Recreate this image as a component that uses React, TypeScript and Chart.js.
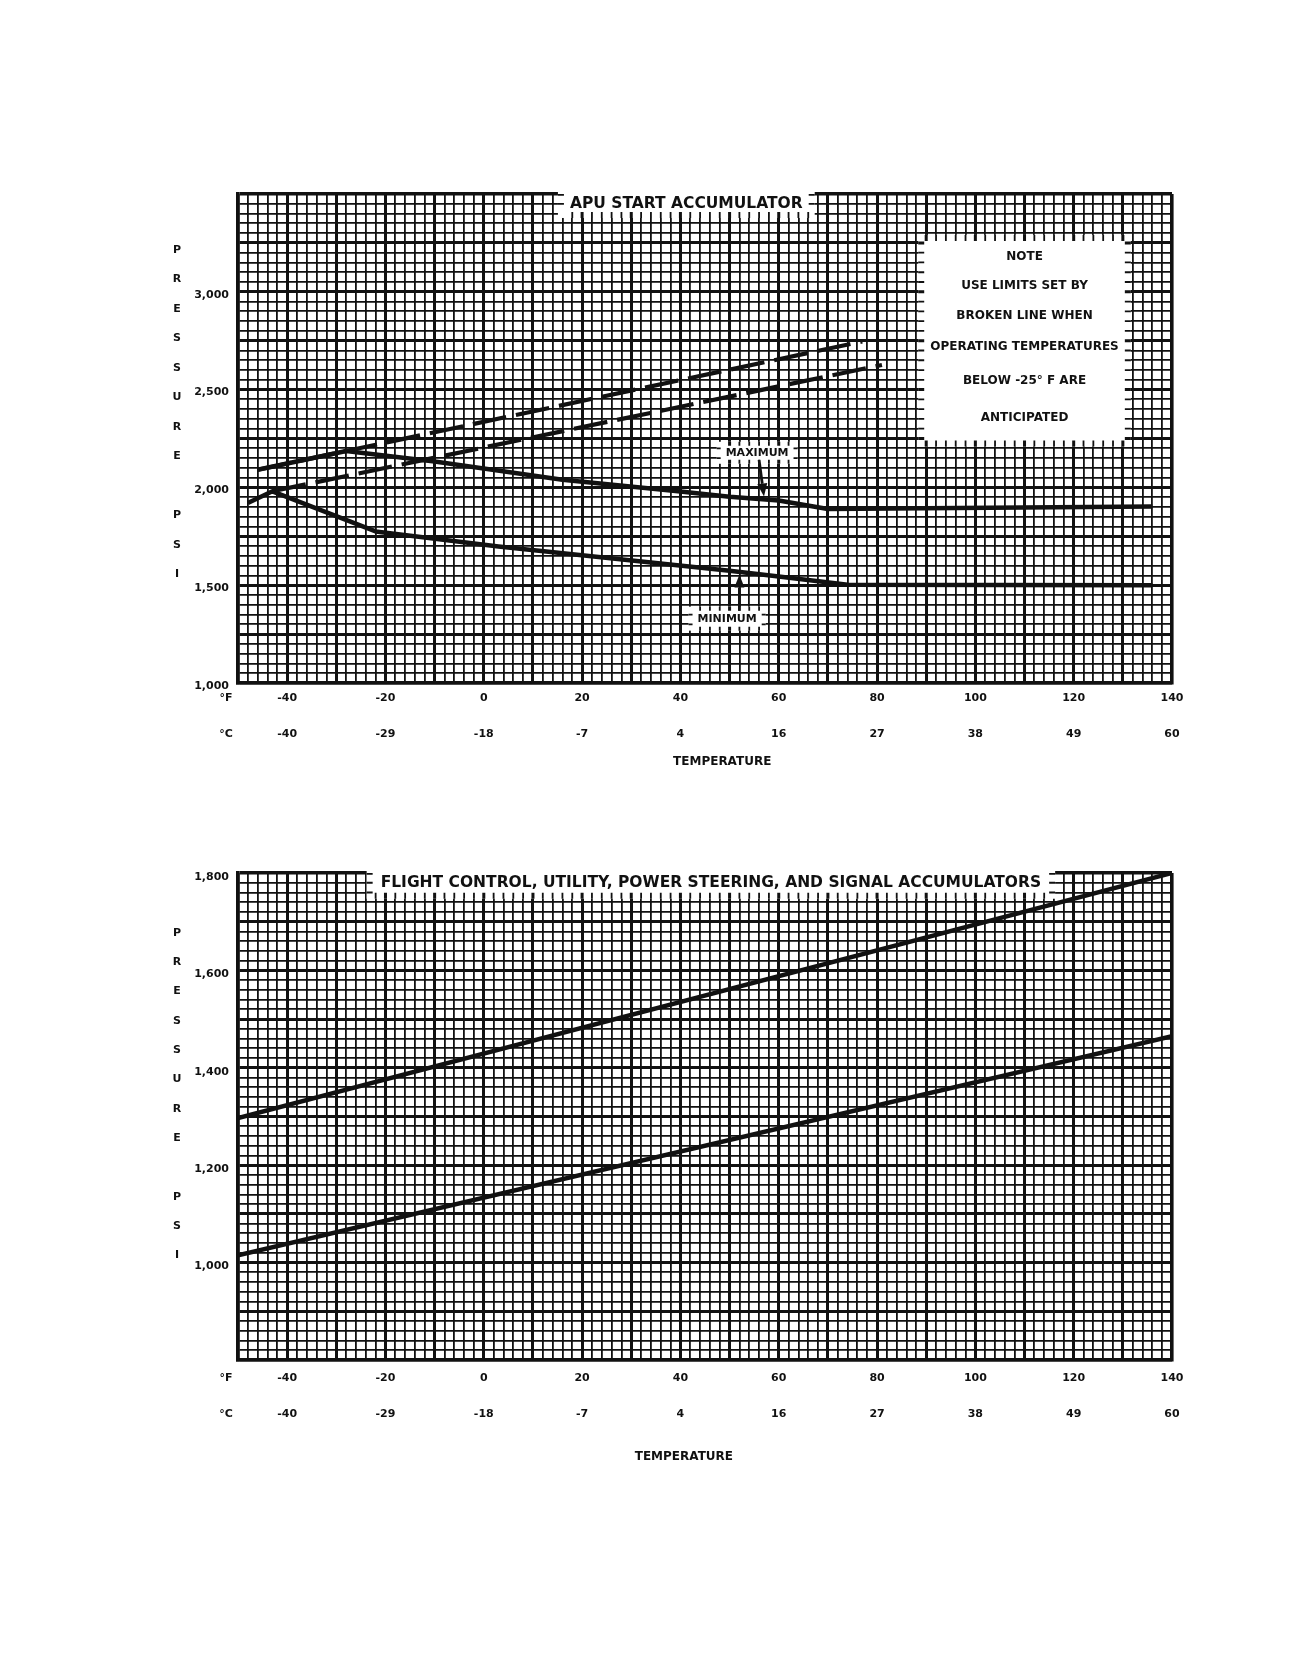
import React, { useEffect, useRef } from 'react';
import { Chart, registerables } from 'chart.js';

Chart.register(...registerables);

const FONT = '"DejaVu Sans", "Liberation Sans", sans-serif';
const INK = '#111';

// temperature scale shared by both charts
const TEMP_F_TICKS = [-40, -20, 0, 20, 40, 60, 80, 100, 120, 140];
const TEMP_C_TICKS = ['-40', '-29', '-18', '-7', '4', '16', '27', '38', '49', '60'];

// APU START ACCUMULATOR
const APU_PSI_TICKS = [1000, 1500, 2000, 2500, 3000];
const APU_UPPER_BROKEN_F = [-46, 77];
const APU_UPPER_BROKEN_PSI = [2090, 2746];
const APU_LOWER_BROKEN_F = [-43, 81];
const APU_LOWER_BROKEN_PSI = [1980, 2626];
const APU_MAX_F = [-46, -28, -10, 16, 40, 50, 60, 70, 136];
const APU_MAX_PSI = [2090, 2186, 2132, 2039, 1979, 1952, 1933, 1890, 1902];
const APU_MIN_F = [-48, -43, -22, 3, 50, 60, 74, 136];
const APU_MIN_PSI = [1920, 1980, 1775, 1698, 1574, 1545, 1502, 1500];

// FLIGHT CONTROL, UTILITY, POWER STEERING, AND SIGNAL ACCUMULATORS
const FC_PSI_TICKS = [1000, 1200, 1400, 1600, 1800];
const FC_UPPER_F = [-50, 140];
const FC_UPPER_PSI = [1297, 1800];
const FC_LOWER_F = [-50, 140];
const FC_LOWER_PSI = [1015, 1465];

const NOTE_LINES = [
  'NOTE',
  'USE LIMITS SET BY',
  'BROKEN LINE WHEN',
  'OPERATING TEMPERATURES',
  'BELOW -25° F ARE',
  'ANTICIPATED',
];
// where the note rows sit, in psi
const NOTE_ROWS_PSI = [3176, 3030, 2879, 2717, 2545, 2356];

// graph paper
const X_MIN = -50;
const X_MAX = 140;
const X_MAJOR = 10;

const range = (from: number, to: number, step: number) => {
  const out: number[] = [];
  for (let v = from; v <= to + 1e-9; v += step) out.push(+v.toFixed(3));
  return out;
};
const X_GRID = range(X_MIN, X_MAX, 2);

const widthFor = (v: number, min: number, max: number, major: number) => {
  if (Math.abs(v - min) < 1e-6 || Math.abs(v - max) < 1e-6) return 3.6;
  const k = (v - min) / major;
  return Math.abs(k - Math.round(k)) < 1e-6 ? 3 : 1.8;
};

const font = (size: number) => `bold ${size}px ${FONT}`;
const TICK_FONT = { family: FONT, size: 11, weight: 'bold' as const };

const pts = (xs: number[], ys: number[]) => xs.map((x, i) => ({ x, y: ys[i] }));

function drawText(ctx: CanvasRenderingContext2D, text: string, x: number, y: number, size: number) {
  ctx.save();
  ctx.font = font(size);
  ctx.fillStyle = INK;
  ctx.textAlign = 'center';
  ctx.textBaseline = 'middle';
  ctx.fillText(text, x, y);
  ctx.restore();
}

// white patch on the paper, leaving short grid stubs round its edge
function knockOut(chart: any, opts: any, l: number, t: number, r: number, b: number, band: number) {
  const { ctx, chartArea } = chart;
  const xs = chart.scales.x;
  const ys = chart.scales.y;
  ctx.save();
  ctx.fillStyle = '#fff';
  ctx.fillRect(l - band, t - band, r - l + 2 * band, b - t + 2 * band);
  ctx.beginPath();
  ctx.rect(chartArea.left, chartArea.top, chartArea.right - chartArea.left, chartArea.bottom - chartArea.top);
  ctx.clip();
  ctx.strokeStyle = INK;
  for (const v of X_GRID) {
    const px = xs.getPixelForValue(v);
    if (px < l || px > r) continue;
    ctx.lineWidth = widthFor(v, X_MIN, X_MAX, X_MAJOR);
    ctx.beginPath();
    ctx.moveTo(px, t - band);
    ctx.lineTo(px, t);
    ctx.moveTo(px, b);
    ctx.lineTo(px, b + band);
    ctx.stroke();
  }
  for (const v of opts.yGrid) {
    const py = ys.getPixelForValue(v);
    if (py < t || py > b) continue;
    ctx.lineWidth = widthFor(v, opts.yMin, opts.yMax, opts.yMajor);
    ctx.beginPath();
    ctx.moveTo(l - band, py);
    ctx.lineTo(l, py);
    ctx.moveTo(r, py);
    ctx.lineTo(r + band, py);
    ctx.stroke();
  }
  ctx.restore();
}

function drawArrow(ctx: CanvasRenderingContext2D, x0: number, y0: number, x1: number, y1: number) {
  const ang = Math.atan2(y1 - y0, x1 - x0);
  const head = 13;
  const half = 5;
  const bx = x1 - head * Math.cos(ang);
  const by = y1 - head * Math.sin(ang);
  ctx.save();
  ctx.strokeStyle = INK;
  ctx.fillStyle = INK;
  ctx.lineWidth = 2.8;
  ctx.beginPath();
  ctx.moveTo(x0, y0);
  ctx.lineTo(bx, by);
  ctx.stroke();
  ctx.beginPath();
  ctx.moveTo(x1, y1);
  ctx.lineTo(bx + half * Math.sin(ang), by - half * Math.cos(ang));
  ctx.lineTo(bx - half * Math.sin(ang), by + half * Math.cos(ang));
  ctx.closePath();
  ctx.fill();
  ctx.restore();
}

const paperPlugin = {
  id: 'paper',
  beforeDatasetsDraw(chart: any, _args: any, opts: any) {
    const { ctx } = chart;
    const xs = chart.scales.x;
    const ys = chart.scales.y;
    for (const p of opts.panels) {
      const l = xs.getPixelForValue(p.x0) - p.pad;
      const r = xs.getPixelForValue(p.x1) + p.pad;
      const t = ys.getPixelForValue(p.y1) - p.pad;
      const b = ys.getPixelForValue(p.y0) + p.pad;
      knockOut(chart, opts, l, t, r, b, p.band);
    }
    for (const lb of opts.labels) {
      ctx.save();
      ctx.font = font(lb.size);
      const w = ctx.measureText(lb.text).width;
      ctx.restore();
      const cx = xs.getPixelForValue(lb.x);
      const cy = ys.getPixelForValue(lb.y);
      const t = lb.toTop ? chart.chartArea.top - 4 : cy - lb.padY;
      knockOut(chart, opts, cx - w / 2 - lb.padX, t, cx + w / 2 + lb.padX, cy + lb.padY, lb.band);
      drawText(ctx, lb.text, cx, cy, lb.size);
    }
    for (const tx of opts.texts) {
      drawText(ctx, tx.text, xs.getPixelForValue(tx.x), ys.getPixelForValue(tx.y), tx.size);
    }
  },
  afterDatasetsDraw(chart: any, _args: any, opts: any) {
    const xs = chart.scales.x;
    const ys = chart.scales.y;
    for (const a of opts.arrows) {
      drawArrow(
        chart.ctx,
        xs.getPixelForValue(a.from[0]),
        ys.getPixelForValue(a.from[1]),
        xs.getPixelForValue(a.to[0]),
        ys.getPixelForValue(a.to[1])
      );
    }
  },
  afterDraw(chart: any, _args: any, opts: any) {
    const { ctx, chartArea } = chart;
    const xs = chart.scales.x;
    const xc = chart.scales.xc;
    // stacked axis title letters
    [...opts.letters.text].forEach((ch: string, i: number) => {
      if (ch === ' ') return;
      drawText(ctx, ch, chartArea.left - 61, chartArea.top + opts.letters.top + i * opts.letters.step, 11);
    });
    const rowF = xs.top + xs.options.ticks.padding + 6.6;
    const rowC = xc.top + xc.options.ticks.padding + 6.6;
    drawText(ctx, '°F', chartArea.left - 12, rowF, 11);
    drawText(ctx, '°C', chartArea.left - 12, rowC, 11);
    drawText(ctx, 'TEMPERATURE', xs.getPixelForValue(opts.temp.x), chartArea.bottom + opts.temp.dy, 12);
  },
};

function buildConfig(spec: any): any {
  const yGrid = range(spec.yMin, spec.yMax, spec.yStep);
  return {
    type: 'line',
    data: { datasets: spec.datasets },
    plugins: [paperPlugin],
    options: {
      responsive: false,
      animation: false,
      events: [],
      layout: { padding: { left: 170, right: 114, top: spec.padTop, bottom: spec.padBottom } },
      elements: { point: { radius: 0 }, line: { tension: 0, borderJoinStyle: 'round' } },
      plugins: {
        legend: { display: false },
        tooltip: { enabled: false },
        paper: { ...spec.paper, yGrid, yMin: spec.yMin, yMax: spec.yMax, yMajor: spec.yMajor },
      },
      scales: {
        x: {
          type: 'linear',
          min: X_MIN,
          max: X_MAX,
          afterBuildTicks: (s: any) => {
            s.ticks = X_GRID.map((value) => ({ value }));
          },
          afterFit: (s: any) => {
            s.height = 36;
          },
          grid: {
            color: INK,
            drawTicks: false,
            lineWidth: (c: any) => (c.tick ? widthFor(c.tick.value, X_MIN, X_MAX, X_MAJOR) : 1),
          },
          border: { display: true, color: INK, width: 3.6 },
          ticks: {
            autoSkip: false,
            maxRotation: 0,
            minRotation: 0,
            padding: spec.xPad,
            color: INK,
            font: TICK_FONT,
            callback: (v: number) => (TEMP_F_TICKS.includes(v) ? String(v) : ''),
          },
        },
        xc: {
          type: 'linear',
          axis: 'x',
          position: 'bottom',
          weight: 1,
          min: X_MIN,
          max: X_MAX,
          afterBuildTicks: (s: any) => {
            s.ticks = TEMP_F_TICKS.map((value) => ({ value }));
          },
          afterFit: (s: any) => {
            s.height = 40;
          },
          grid: { display: false, drawTicks: false },
          border: { display: false },
          ticks: {
            autoSkip: false,
            maxRotation: 0,
            minRotation: 0,
            padding: spec.xcPad,
            color: INK,
            font: TICK_FONT,
            callback: (_v: number, i: number) => TEMP_C_TICKS[i],
          },
        },
        y: {
          type: 'linear',
          min: spec.yMin,
          max: spec.yMax,
          afterBuildTicks: (s: any) => {
            s.ticks = yGrid.map((value) => ({ value }));
          },
          afterFit: (s: any) => {
            s.width = 60;
          },
          grid: {
            color: INK,
            drawTicks: false,
            lineWidth: (c: any) => (c.tick ? widthFor(c.tick.value, spec.yMin, spec.yMax, spec.yMajor) : 1),
          },
          border: { display: true, color: INK, width: 3.6 },
          ticks: {
            autoSkip: false,
            padding: 9,
            labelOffset: spec.yLabelOffset,
            color: INK,
            font: TICK_FONT,
            callback: (v: number) => (spec.yTicks.includes(v) ? v.toLocaleString('en-US') : ''),
          },
        },
      },
    },
  };
}

const solid = (data: any[]) => ({ data, borderColor: INK, borderWidth: 4.5, fill: false });
const broken = (data: any[]) => ({ data, borderColor: INK, borderWidth: 4.2, borderDash: [34, 10], fill: false });

const apuConfig = () =>
  buildConfig({
    yMin: 1000,
    yMax: 3500,
    yStep: 50,
    yMajor: 250,
    yTicks: APU_PSI_TICKS,
    yLabelOffset: 3,
    padTop: 186,
    padBottom: 29,
    xPad: 9,
    xcPad: 9,
    datasets: [
      broken(pts(APU_UPPER_BROKEN_F, APU_UPPER_BROKEN_PSI)),
      broken(pts(APU_LOWER_BROKEN_F, APU_LOWER_BROKEN_PSI)),
      solid(pts(APU_MAX_F, APU_MAX_PSI)),
      solid(pts(APU_MIN_F, APU_MIN_PSI)),
    ],
    paper: {
      panels: [{ x0: 90, x1: 130, y0: 2250, y1: 3250, pad: 2, band: 6 }],
      labels: [
        { text: 'APU START ACCUMULATOR', x: 41.2, y: 3449, size: 15.5, padX: 6, padY: 8, band: 6, toTop: true },
        { text: 'MAXIMUM', x: 55.6, y: 2177, size: 11, padX: 5, padY: 7, band: 4 },
        { text: 'MINIMUM', x: 49.5, y: 1329, size: 11, padX: 5, padY: 8, band: 4 },
      ],
      texts: NOTE_LINES.map((text, i) => ({ text, x: 110, y: NOTE_ROWS_PSI[i], size: 12 })),
      arrows: [
        { from: [56, 2141], to: [57, 1953] },
        { from: [52, 1369], to: [52, 1555] },
      ],
      letters: { text: 'PRESSURE PSI', top: 56, step: 29.5 },
      temp: { x: 48.5, dy: 79 },
    },
  });

const fcConfig = () =>
  buildConfig({
    yMin: 800,
    yMax: 1800,
    yStep: 20,
    yMajor: 100,
    yTicks: FC_PSI_TICKS,
    yLabelOffset: 4,
    padTop: 65,
    padBottom: 52,
    xPad: 12,
    xcPad: 12,
    datasets: [solid(pts(FC_UPPER_F, FC_UPPER_PSI)), solid(pts(FC_LOWER_F, FC_LOWER_PSI))],
    paper: {
      panels: [],
      labels: [
        {
          text: 'FLIGHT CONTROL, UTILITY, POWER STEERING, AND SIGNAL ACCUMULATORS',
          x: 46.2,
          y: 1780,
          size: 15.5,
          padX: 8,
          padY: 10,
          band: 6,
          toTop: true,
        },
      ],
      texts: [],
      arrows: [],
      letters: { text: 'PRESSURE PSI', top: 60, step: 29.3 },
      temp: { x: 40.7, dy: 97 },
    },
  });

const WIDTH = 1278;

const PaperChart: React.FC<{ build: () => any; top: number; height: number }> = ({ build, top, height }) => {
  const canvasRef = useRef<HTMLCanvasElement | null>(null);

  useEffect(() => {
    if (!canvasRef.current) return;
    const chart = new Chart(canvasRef.current, build());
    return () => chart.destroy();
  }, [build]);

  return (
    <canvas
      ref={canvasRef}
      width={WIDTH}
      height={height}
      style={{ position: 'absolute', left: 0, top, width: WIDTH, height }}
    />
  );
};

export default function App() {
  return (
    <div style={{ position: 'relative', width: WIDTH, height: 1480, background: '#fff' }}>
      <PaperChart build={apuConfig} top={0} height={780} />
      <PaperChart build={fcConfig} top={800} height={680} />
    </div>
  );
}
